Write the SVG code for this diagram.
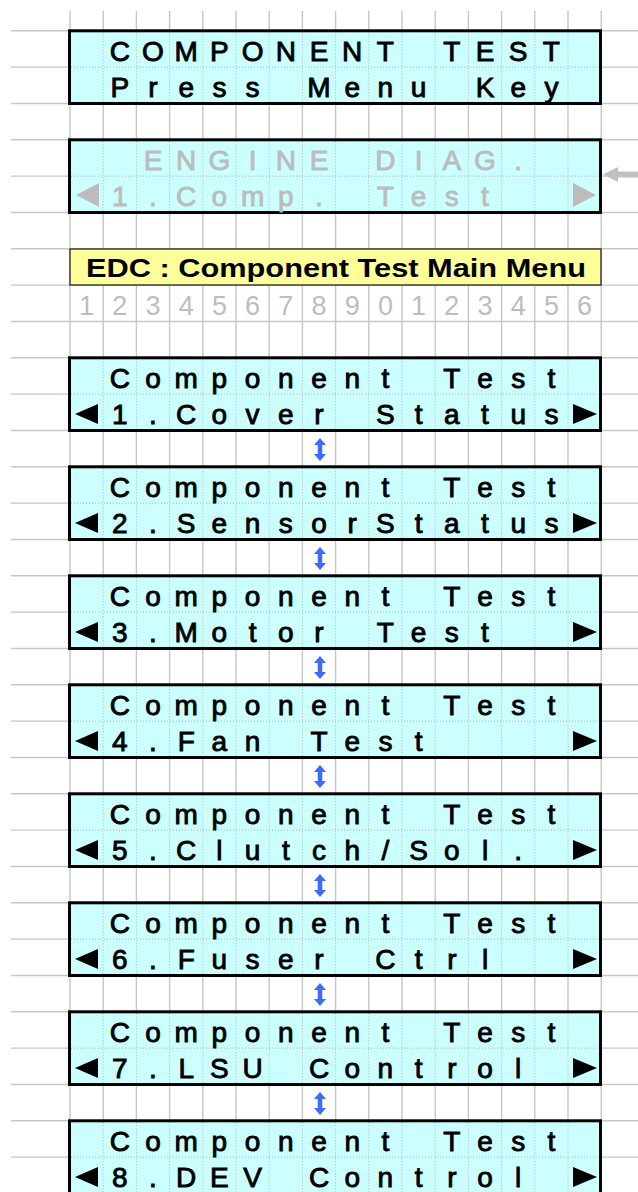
<svg xmlns="http://www.w3.org/2000/svg" xmlns:xlink="http://www.w3.org/1999/xlink" width="638" height="1192" viewBox="0 0 638 1192">
<style>
.grid{stroke:#c6c6c6;stroke-width:1.4;fill:none}
.dot{stroke:#b0b0b0;stroke-width:1;stroke-dasharray:1 2;fill:none}
.lcdbg{fill:#ccffff}
.lcdbd{fill:none;stroke:#000;stroke-width:3}
.t{font-family:"Liberation Sans",Arial,sans-serif;font-size:28px;fill:#000;stroke:#000;stroke-width:0.9;text-anchor:middle}
.g{fill:#bcbcbc;stroke:#bcbcbc}
.num{font-family:"Liberation Sans",Arial,sans-serif;font-size:27px;fill:#bdbdbd;text-anchor:middle}
.ttl{font-family:"Liberation Sans",Arial,sans-serif;font-size:25px;font-weight:bold;fill:#000}
.tri{fill:#000}
.trig{fill:#bcbcbc}
.updown{stroke:#3b6bff;stroke-width:4.5;fill:none}
</style>
<defs>
<g id="lcd">
<rect class="lcdbg" x="69.5" y="0" width="531" height="72.7"/>
<path class="dot" d="M103.2 1.5V71.2M136.4 1.5V71.2M169.6 1.5V71.2M202.8 1.5V71.2M236 1.5V71.2M269.2 1.5V71.2M302.4 1.5V71.2M335.6 1.5V71.2M368.8 1.5V71.2M402 1.5V71.2M435.2 1.5V71.2M468.4 1.5V71.2M501.6 1.5V71.2M534.8 1.5V71.2M568 1.5V71.2M71 36.35H599"/>
<rect class="lcdbd" x="69.5" y="0" width="531" height="72.7"/>
</g>
<polygon id="triL" class="tri" points="75,0 98,-10 98,10"/>
<polygon id="triR" class="tri" points="597,0 573,-10 573,10"/>
<polygon id="triLg" class="trig" points="76,0 99,-12 99,12"/>
<polygon id="triRg" class="trig" points="596,0 573,-12 573,12"/>
<marker id="ah" viewBox="0 0 7 12" refX="0" refY="6" markerWidth="7" markerHeight="12" markerUnits="userSpaceOnUse" orient="auto-start-reverse">
<path d="M0 0L7 6L0 12Z" fill="#3b6bff"/>
</marker>
</defs>
<g id="grid">
<path class="grid" d="M70 11V1192M103.2 11V1192M136.4 11V1192M169.6 11V1192M202.8 11V1192M236 11V1192M269.2 11V1192M302.4 11V1192M335.6 11V1192M368.8 11V1192M402 11V1192M435.2 11V1192M468.4 11V1192M501.6 11V1192M534.8 11V1192M568 11V1192M601.2 11V1192"/>
<path class="grid" d="M11 30.8H638M11 67.13H638M11 103.47H638M11 139.8H638M11 176.13H638M11 212.47H638M11 248.8H638M11 285.13H638M11 321.47H638M11 357.8H638M11 394.13H638M11 430.47H638M11 466.8H638M11 503.13H638M11 539.47H638M11 575.8H638M11 612.13H638M11 648.47H638M11 684.8H638M11 721.13H638M11 757.47H638M11 793.8H638M11 830.13H638M11 866.47H638M11 902.8H638M11 939.13H638M11 975.47H638M11 1011.8H638M11 1048.13H638M11 1084.47H638M11 1120.8H638M11 1157.13H638"/>
</g>
<g id="screen-component-test">
<use href="#lcd" y="30.8"/>
<text class="t" x="119.8 153 186.2 219.4 252.6 285.8 319 352.2 385.4 418.6 451.8 485 518.2 551.4" y="60.8" xml:space="preserve">COMPONENT TEST</text>
<text class="t" x="119.8 153 186.2 219.4 252.6 285.8 319 352.2 385.4 418.6 451.8 485 518.2 551.4" y="96.6" xml:space="preserve">Press Menu Key</text>
</g>
<g id="screen-engine-diag">
<use href="#lcd" y="139.8"/>
<text class="t g" x="153 186.2 219.4 252.6 285.8 319 352.2 385.4 418.6 451.8 485 518.2 551.4" y="169.8" xml:space="preserve">ENGINE DIAG.</text>
<text class="t g" x="119.8 153 186.2 219.4 252.6 285.8 319 352.2 385.4 418.6 451.8 485 518.2 551.4" y="205.6" xml:space="preserve">1.Comp. Test</text>
<use href="#triLg" y="195"/>
<use href="#triRg" y="195"/>
</g>
<g id="title-edc">
<rect x="70" y="249" width="531" height="36" fill="#ffff99" stroke="#222" stroke-width="1.3"/>
<text class="ttl" x="86" y="277" textLength="500" lengthAdjust="spacingAndGlyphs">EDC : Component Test Main Menu</text>
</g>
<g id="column-numbers">
<text class="num" x="86.6 119.8 153 186.2 219.4 252.6 285.8 319 352.2 385.4 418.6 451.8 485 518.2 551.4 584.6" y="315">1234567890123456</text>
</g>
<g id="menu-1">
<use href="#lcd" y="357.8"/>
<text class="t" x="119.8 153 186.2 219.4 252.6 285.8 319 352.2 385.4 418.6 451.8 485 518.2 551.4" y="387.8" xml:space="preserve">Component Test</text>
<text class="t" x="119.8 153 186.2 219.4 252.6 285.8 319 352.2 385.4 418.6 451.8 485 518.2 551.4" y="423.6" xml:space="preserve">1.Cover Status</text>
<use href="#triL" y="414.1"/><use href="#triR" y="414.1"/>
</g>
<g id="menu-2">
<use href="#lcd" y="466.8"/>
<text class="t" x="119.8 153 186.2 219.4 252.6 285.8 319 352.2 385.4 418.6 451.8 485 518.2 551.4" y="496.8" xml:space="preserve">Component Test</text>
<text class="t" x="119.8 153 186.2 219.4 252.6 285.8 319 352.2 385.4 418.6 451.8 485 518.2 551.4" y="532.6" xml:space="preserve">2.SensorStatus</text>
<use href="#triL" y="523.1"/><use href="#triR" y="523.1"/>
</g>
<g id="menu-3">
<use href="#lcd" y="575.8"/>
<text class="t" x="119.8 153 186.2 219.4 252.6 285.8 319 352.2 385.4 418.6 451.8 485 518.2 551.4" y="605.8" xml:space="preserve">Component Test</text>
<text class="t" x="119.8 153 186.2 219.4 252.6 285.8 319 352.2 385.4 418.6 451.8 485 518.2 551.4" y="641.6" xml:space="preserve">3.Motor Test</text>
<use href="#triL" y="632.1"/><use href="#triR" y="632.1"/>
</g>
<g id="menu-4">
<use href="#lcd" y="684.8"/>
<text class="t" x="119.8 153 186.2 219.4 252.6 285.8 319 352.2 385.4 418.6 451.8 485 518.2 551.4" y="714.8" xml:space="preserve">Component Test</text>
<text class="t" x="119.8 153 186.2 219.4 252.6 285.8 319 352.2 385.4 418.6 451.8 485 518.2 551.4" y="750.6" xml:space="preserve">4.Fan Test</text>
<use href="#triL" y="741.1"/><use href="#triR" y="741.1"/>
</g>
<g id="menu-5">
<use href="#lcd" y="793.8"/>
<text class="t" x="119.8 153 186.2 219.4 252.6 285.8 319 352.2 385.4 418.6 451.8 485 518.2 551.4" y="823.8" xml:space="preserve">Component Test</text>
<text class="t" x="119.8 153 186.2 219.4 252.6 285.8 319 352.2 385.4 418.6 451.8 485 518.2 551.4" y="859.6" xml:space="preserve">5.Clutch/Sol.</text>
<use href="#triL" y="850.1"/><use href="#triR" y="850.1"/>
</g>
<g id="menu-6">
<use href="#lcd" y="902.8"/>
<text class="t" x="119.8 153 186.2 219.4 252.6 285.8 319 352.2 385.4 418.6 451.8 485 518.2 551.4" y="932.8" xml:space="preserve">Component Test</text>
<text class="t" x="119.8 153 186.2 219.4 252.6 285.8 319 352.2 385.4 418.6 451.8 485 518.2 551.4" y="968.6" xml:space="preserve">6.Fuser Ctrl</text>
<use href="#triL" y="959.1"/><use href="#triR" y="959.1"/>
</g>
<g id="menu-7">
<use href="#lcd" y="1011.8"/>
<text class="t" x="119.8 153 186.2 219.4 252.6 285.8 319 352.2 385.4 418.6 451.8 485 518.2 551.4" y="1041.8" xml:space="preserve">Component Test</text>
<text class="t" x="119.8 153 186.2 219.4 252.6 285.8 319 352.2 385.4 418.6 451.8 485 518.2 551.4" y="1077.6" xml:space="preserve">7.LSU Control</text>
<use href="#triL" y="1068.1"/><use href="#triR" y="1068.1"/>
</g>
<g id="menu-8">
<use href="#lcd" y="1120.8"/>
<text class="t" x="119.8 153 186.2 219.4 252.6 285.8 319 352.2 385.4 418.6 451.8 485 518.2 551.4" y="1150.8" xml:space="preserve">Component Test</text>
<text class="t" x="119.8 153 186.2 219.4 252.6 285.8 319 352.2 385.4 418.6 451.8 485 518.2 551.4" y="1186.6" xml:space="preserve">8.DEV Control</text>
<use href="#triL" y="1177.1"/><use href="#triR" y="1177.1"/>
</g>
<g id="connectors">
<path d="M603 174.5L618 167V171.5H638V177.5H618V182Z" fill="#c0c0c0"/>
<line class="updown" x1="320" y1="445" x2="320" y2="454" marker-start="url(#ah)" marker-end="url(#ah)"/>
<line class="updown" x1="320" y1="554" x2="320" y2="563" marker-start="url(#ah)" marker-end="url(#ah)"/>
<line class="updown" x1="320" y1="663" x2="320" y2="672" marker-start="url(#ah)" marker-end="url(#ah)"/>
<line class="updown" x1="320" y1="772" x2="320" y2="781" marker-start="url(#ah)" marker-end="url(#ah)"/>
<line class="updown" x1="320" y1="881" x2="320" y2="890" marker-start="url(#ah)" marker-end="url(#ah)"/>
<line class="updown" x1="320" y1="990" x2="320" y2="999" marker-start="url(#ah)" marker-end="url(#ah)"/>
<line class="updown" x1="320" y1="1099" x2="320" y2="1108" marker-start="url(#ah)" marker-end="url(#ah)"/>
</g>
</svg>
